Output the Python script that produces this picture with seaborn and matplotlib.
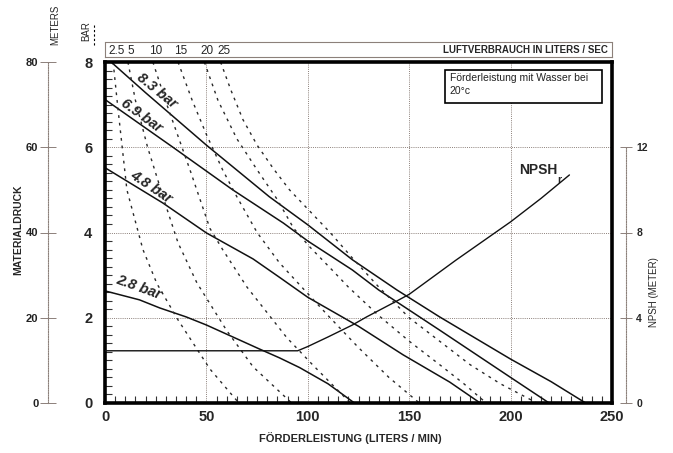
import matplotlib
matplotlib.use('agg')
import matplotlib.pyplot as plt
import seaborn as sns
import numpy as np
from matplotlib.patches import Rectangle
from matplotlib.lines import Line2D

## ---------------- data ----------------
## solid lines: flow (l/min) vs material pressure (bar) per air inlet pressure
bar_labels = ['8.3 bar', '6.9 bar', '4.8 bar', '2.8 bar']
flow_83 = [3, 20, 50, 81, 100, 122, 144, 165, 200, 220, 237]
bar_83 = [8.0, 7.28, 6.05, 4.84, 4.18, 3.36, 2.65, 2.02, 1.03, 0.5, 0.0]
flow_69 = [0, 33.5, 63, 88, 100, 122, 135, 165, 200, 219]
bar_69 = [7.12, 6.0, 5.0, 4.22, 3.8, 3.12, 2.65, 1.71, 0.6, 0.0]
flow_48 = [0, 28.6, 50, 73, 86, 100, 125, 147, 170, 185]
bar_48 = [5.52, 4.69, 3.99, 3.38, 2.95, 2.48, 1.8, 1.13, 0.49, 0.0]
flow_28 = [0, 17, 27, 40, 50, 76, 86, 96, 110, 123]
bar_28 = [2.63, 2.42, 2.23, 2.02, 1.83, 1.27, 1.06, 0.83, 0.45, 0.0]

## dashed lines: air consumption (liters / sec)
air_labels = ['2.5', '5', '10', '15', '20', '25']
air_25_x = [4, 6.4, 10.8, 18.7, 25.6, 36, 51.7, 66]
air_25_y = [8.0, 6.9, 5.0, 3.6, 2.8, 1.95, 0.8, 0.0]
air_5_x = [11.3, 15, 21, 29.6, 36, 45.3, 60, 73, 92]
air_5_y = [8.0, 7.1, 6.0, 4.69, 3.76, 2.82, 1.7, 0.85, 0.0]
air_10_x = [23.6, 30.5, 41.9, 51.7, 58, 70, 89.7, 102.5, 121]
air_10_y = [8.0, 7.0, 5.47, 4.1, 3.6, 2.72, 1.53, 0.89, 0.0]
air_15_x = [36, 43, 50, 58, 65, 75, 86, 97, 110, 125, 140, 155]
air_15_y = [8.0, 7.1, 6.3, 5.47, 4.84, 4.0, 3.29, 2.72, 2.05, 1.3, 0.6, 0.0]
air_20_x = [49, 55.7, 65, 75, 85, 93, 101, 112, 120, 135, 150, 165, 177, 188]
air_20_y = [8.0, 7.1, 6.2, 5.47, 4.77, 4.1, 3.66, 3.12, 2.72, 2.05, 1.45, 0.9, 0.45, 0.0]
air_25b_x = [57, 62, 68, 75, 83, 91, 101, 111, 122, 135, 150, 165, 180, 195, 213]
air_25b_y = [8.0, 7.35, 6.65, 6.05, 5.5, 5.0, 4.5, 4.0, 3.4, 2.72, 2.0, 1.45, 0.9, 0.45, 0.0]

## NPSHr curve (meters)
npsh_flow = [0, 95, 100, 110, 122, 129, 143, 150, 173, 200, 215, 229]
npsh_m = [2.45, 2.45, 2.65, 3.1, 3.66, 4.04, 4.74, 5.1, 6.7, 8.5, 9.6, 10.7]

flow_ticks = [0, 50, 100, 150, 200, 250]
bar_ticks = [0, 2, 4, 6, 8]
meter_ticks = [0, 20, 40, 60, 80]
npsh_ticks = [0, 4, 8, 12]

## ---------------- figure ----------------
sns.set_style('white')
plt.rcParams['font.family'] = ['Liberation Sans', 'DejaVu Sans']

W, H = 673, 453
fig = plt.figure(figsize=(W / 100, H / 100), dpi=100)
ax = fig.add_axes([105 / W, 50 / H, 507 / W, 341 / H])
ax.set_xlim(0, 250)
ax.set_ylim(0, 8)

grid_col = '#8c807a'
ax.set_axisbelow(True)
ax.grid(True, which='major', color=grid_col, linestyle=(0, (1, 1.2)), lw=0.7)

solid = [(flow_83, bar_83), (flow_69, bar_69), (flow_48, bar_48), (flow_28, bar_28)]
for fx, fy in solid:
	sns.lineplot(x=fx, y=fy, ax=ax, color='#111111', lw=1.1, sort=False, estimator=None)

dashed = [(air_25_x, air_25_y), (air_5_x, air_5_y), (air_10_x, air_10_y),
	(air_15_x, air_15_y), (air_20_x, air_20_y), (air_25b_x, air_25b_y)]
for dx, dy in dashed:
	sns.lineplot(x=dx, y=dy, ax=ax, color='#2a2a2a', lw=1.0, linestyle=(0, (2, 3.5)),
		sort=False, estimator=None)

## pressure labels
lab_pos = [(25.6, 7.32, -39), (18.2, 6.74, -36), (22.7, 5.07, -34), (16.5, 2.72, -20)]
for lab, (lx, ly, rot) in zip(bar_labels, lab_pos):
	ax.text(lx, ly, lab, rotation=rot, rotation_mode='anchor', ha='center', va='center',
		fontsize=10.5, fontweight='heavy', fontstyle='italic', zorder=6)

ax.text(204, 5.47, 'NPSH', fontsize=10, fontweight='bold', va='center', ha='left', zorder=7)
ax.text(223.0, 5.22, 'r', fontsize=7.5, fontweight='bold', va='center', ha='left', zorder=7)

## note box
ax.add_patch(Rectangle((167.5, 7.04), 77.8, 0.78, facecolor='white', edgecolor='black',
	lw=1.2, zorder=5))
ax.text(170, 7.74, 'Förderleistung mit Wasser bei\n20°c', fontsize=7.5, va='top', ha='left',
	color='#222222', linespacing=1.35, zorder=6)

## main axes styling
for s in ax.spines.values():
	s.set_visible(True)
	s.set_color('black')
	s.set_linewidth(2.6)
ax.set_xticks(flow_ticks)
ax.set_xticklabels([str(t) for t in flow_ticks], fontsize=10.5, fontweight='bold')
ax.set_yticks(bar_ticks)
ax.set_yticklabels([str(t) for t in bar_ticks], fontsize=10.5, fontweight='bold')
ax.set_xticks(np.arange(5, 250, 5), minor=True)
ax.set_yticks(np.arange(0.2, 8, 0.2), minor=True)
ax.tick_params(axis='both', which='major', length=0)
ax.tick_params(axis='x', which='major', pad=5)
ax.tick_params(axis='y', which='major', pad=9)
ax.tick_params(axis='both', which='minor', direction='in', length=5, width=0.8,
	color='#333333', bottom=True, left=True, top=False, right=False)
ax.set_xlabel('')
ax.set_ylabel('')

## NPSH axis on the right
ax_r = ax.twinx()
sns.lineplot(x=npsh_flow, y=npsh_m, ax=ax_r, color='#111111', lw=1.0, sort=False, estimator=None)
ax_r.set_ylim(0, 16)
for k in ['left', 'top', 'bottom']:
	ax_r.spines[k].set_visible(False)
ax_r.spines['right'].set_position(('outward', 10))
ax_r.spines['right'].set_bounds(0, 12)
ax_r.spines['right'].set_color(grid_col)
ax_r.spines['right'].set_linestyle((0, (1, 1.2)))
ax_r.spines['right'].set_linewidth(0.8)
ax_r.set_yticks(npsh_ticks)
ax_r.set_yticklabels([str(t) for t in npsh_ticks], fontsize=7.5, fontweight='bold')
ax_r.tick_params(axis='y', direction='inout', length=9, width=0.7, color=grid_col, pad=3)
ax_r.set_ylabel('')
ax_r.set_xlabel('')

## meters axis on the left
ax_m = ax.twinx()
ax_m.set_ylim(0, 80)
ax_m.yaxis.tick_left()
for k in ['right', 'top', 'bottom']:
	ax_m.spines[k].set_visible(False)
ax_m.spines['left'].set_visible(True)
ax_m.spines['left'].set_position(('outward', 41))
ax_m.spines['left'].set_color(grid_col)
ax_m.spines['left'].set_linestyle((0, (1, 1.2)))
ax_m.spines['left'].set_linewidth(0.8)
ax_m.set_yticks(meter_ticks)
ax_m.set_yticklabels([str(t) for t in meter_ticks], fontsize=8, fontweight='bold', color='#222222')
ax_m.tick_params(axis='y', direction='inout', length=12, width=0.7, color=grid_col, pad=1)

## air consumption header box
ax_t = fig.add_axes([105 / W, 396 / H, 507 / W, 15 / H])
ax_t.set_xlim(0, 250)
ax_t.set_ylim(0, 1)
ax_t.set_xticks([])
ax_t.set_yticks([])
for s in ax_t.spines.values():
	s.set_color(grid_col)
	s.set_linestyle((0, (1, 1)))
	s.set_linewidth(0.8)
for lab, dx in zip(air_labels, dashed):
	ax_t.text(dx[0][0] + 1.5, 0.4, lab, fontsize=8.5, ha='center', va='center')
ax_t.text(248, 0.45, 'LUFTVERBRAUCH IN LITERS / SEC', fontsize=7, fontweight='bold',
	ha='right', va='center')

## axis titles
fig.text(350 / W, 1 - 438 / H, 'FÖRDERLEISTUNG (LITERS / MIN)', fontsize=8, fontweight='bold',
	ha='center', va='center')
fig.text(18 / W, 1 - 230 / H, 'MATERIALDRUCK', fontsize=7.5, fontweight='bold', rotation=90,
	ha='center', va='center')
fig.text(654 / W, 1 - 292 / H, 'NPSH (METER)', fontsize=7, rotation=90, ha='center', va='center')
fig.text(55 / W, 1 - 25 / H, 'METERS', fontsize=7, rotation=90, ha='center', va='center')
fig.text(86 / W, 1 - 31 / H, 'BAR', fontsize=7, rotation=90, ha='center', va='center')
fig.add_artist(Line2D([94 / W, 94 / W], [1 - 45 / H, 1 - 25 / H], color='black', lw=0.8,
	linestyle=(0, (2, 2)), transform=fig.transFigure))

plt.savefig('out.png', dpi=100)
